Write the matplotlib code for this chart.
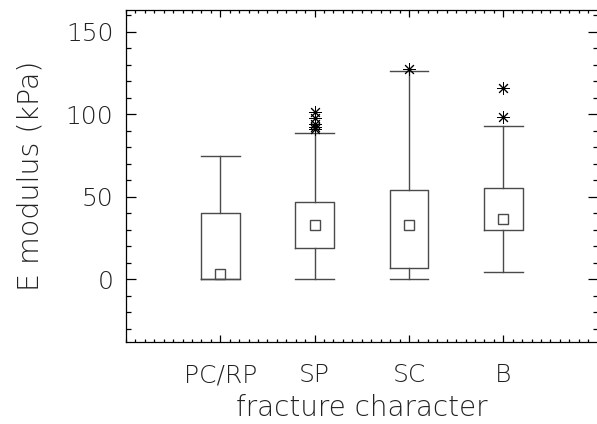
import matplotlib
matplotlib.use("Agg")
import matplotlib.pyplot as plt
from matplotlib.ticker import MultipleLocator

# data
categories = ["PC/RP", "SP", "SC", "B"]
whisker_low = [0.0, 0.0, 0.0, 4.4]
q1 = [0.0, 19.1, 6.8, 29.8]
q3 = [40.3, 46.9, 54.2, 55.4]
whisker_high = [74.7, 88.6, 126.0, 92.9]
means = [3.2, 33.0, 32.8, 36.3]
outliers = [
    [],
    [101.5, 97.5, 94.3, 92.5, 90.8],
    [127.6],
    [116.1, 98.3],
]

line_col = "#4a4a4a"
text_col = "#222222"

plt.rcParams["font.family"] = ["DejaVu Sans"]
plt.rcParams["font.weight"] = "light"

fig = plt.figure(figsize=(5.97, 4.24), dpi=100)
ax = fig.add_axes([0.211, 0.193, 0.790, 0.783])

stats = []
for i, name in enumerate(categories):
    stats.append({
        "label": name,
        "whislo": whisker_low[i],
        "q1": q1[i],
        "med": means[i],
        "q3": q3[i],
        "whishi": whisker_high[i],
        "mean": means[i],
        "fliers": outliers[i],
    })

ax.bxp(
    stats,
    positions=[1, 2, 3, 4],
    widths=0.41,
    capwidths=0.41,
    showmeans=True,
    boxprops=dict(color=line_col, linewidth=1.0),
    whiskerprops=dict(color=line_col, linewidth=1.0),
    capprops=dict(color=line_col, linewidth=1.0),
    medianprops=dict(linewidth=0),
    meanprops=dict(marker="s", markersize=6.5, markerfacecolor="none",
                   markeredgecolor=line_col, markeredgewidth=1.0),
    flierprops=dict(marker=(8, 2, 0), markersize=9, markeredgecolor="black",
                    markeredgewidth=0.7, linestyle="none"),
)

ax.set_xlim(0, 5)
ax.set_ylim(-38, 163)
ax.set_xticks([1, 2, 3, 4])
ax.set_xticklabels(categories)
ax.xaxis.set_minor_locator(MultipleLocator(0.1))
ax.yaxis.set_major_locator(MultipleLocator(50))
ax.yaxis.set_minor_locator(MultipleLocator(10))

ax.tick_params(axis="both", which="both", direction="in", top=True, right=True,
               color="black", width=0.9, labelcolor=text_col, labelsize=18)
ax.tick_params(axis="x", which="major", length=5, pad=15)
ax.tick_params(axis="x", which="minor", length=2.3)
ax.tick_params(axis="y", which="major", length=7.5, pad=9)
ax.tick_params(axis="y", which="minor", length=3.8)

for s in ax.spines.values():
    s.set_color("black")
    s.set_linewidth(0.9)

ax.set_xlabel("fracture character", fontsize=20, fontweight="light",
              color=text_col, labelpad=5)
ax.set_ylabel("E modulus (kPa)", fontsize=20.5, fontweight="light",
              color=text_col, labelpad=15)

fig.savefig("out.png", dpi=100)
